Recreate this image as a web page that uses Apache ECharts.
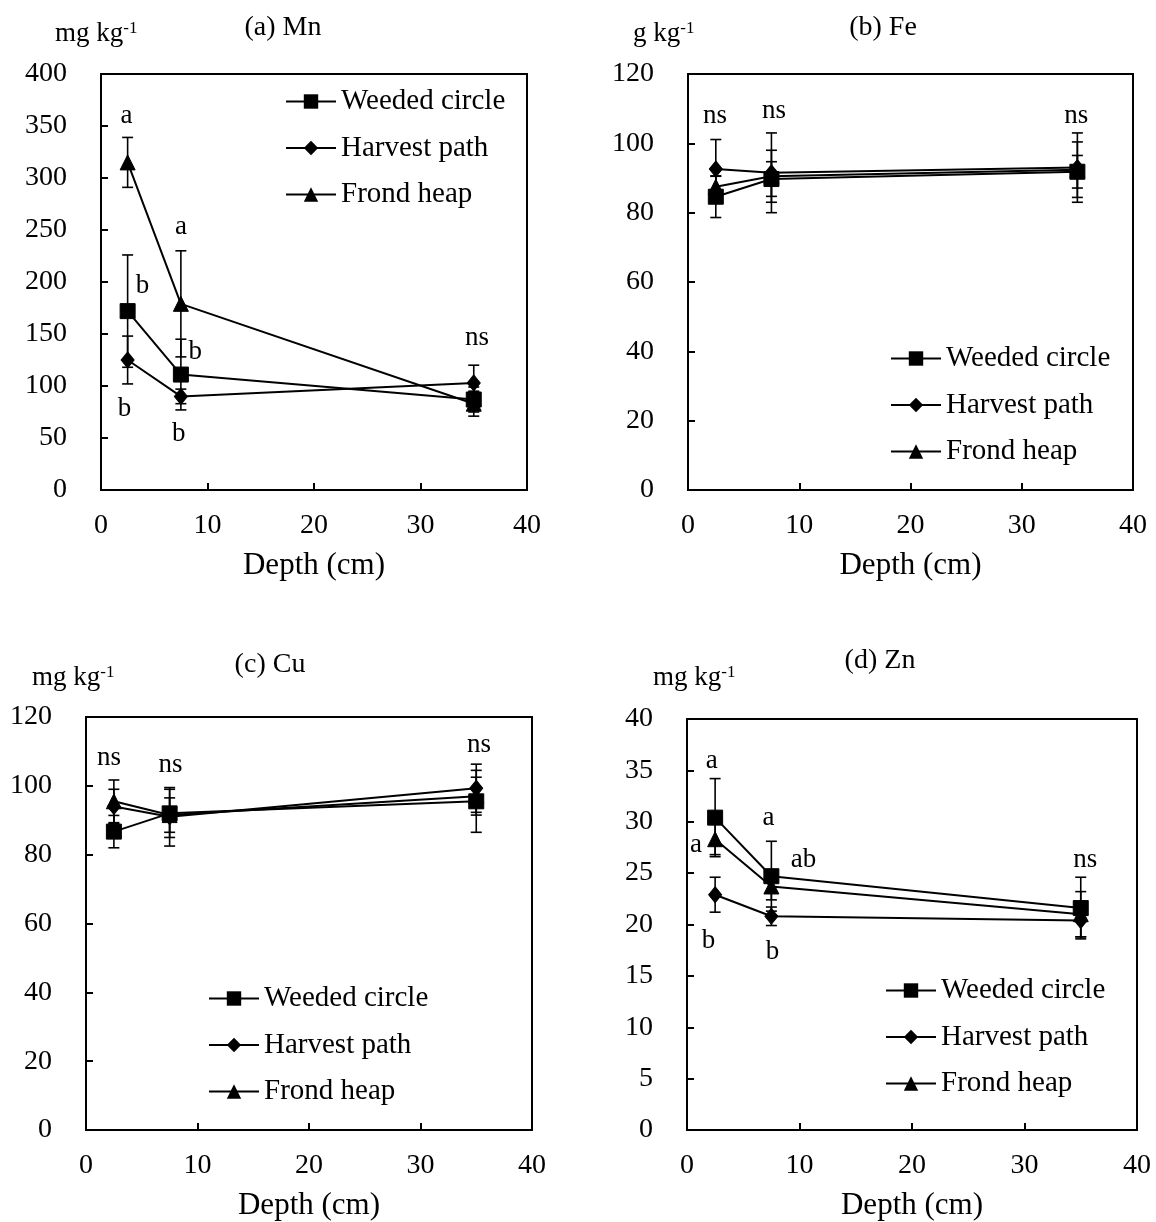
<!DOCTYPE html>
<html><head><meta charset="utf-8">
<script src="https://cdn.jsdelivr.net/npm/echarts@6/dist/echarts.min.js"></script>
<style>html,body{margin:0;padding:0;background:#fff}#c{width:1156px;height:1222px}</style>
</head><body><div id="c"></div>
<script>
// ---- data ----
const depths = [2.5, 7.5, 35];
const seriesNames = ['Weeded circle', 'Harvest path', 'Frond heap'];
const panelTitles = ['(a) Mn', '(b) Fe', '(c) Cu', '(d) Zn'];
const unitTexts = ['mg kg', 'g kg', 'mg kg', 'mg kg'];
const unitSup = '-1';
const xAxisName = 'Depth (cm)';
const yMaxes = [400, 120, 120, 40];
const ySteps = [50, 20, 20, 5];

const mnWeeded = [172, 111, 87];   const mnWeededErr = [54, 34, 12];
const mnHarvest = [125, 90, 103];  const mnHarvestErr = [23, 7, 17];
const mnFrond = [315, 179, 83];    const mnFrondErr = [24, 51, 12];

const feWeeded = [84.6, 89.7, 91.8]; const feWeededErr = [6, 5, 4.7];
const feHarvest = [92.6, 91.5, 93];  const feHarvestErr = [8.5, 11.5, 10];
const feFrond = [87.5, 90.5, 92.4];  const feFrondErr = [3, 7.5, 8];

const cuWeeded = [86.7, 92, 95.5];   const cuWeededErr = [4.7, 7, 9];
const cuHarvest = [94, 91, 99.3];    const cuHarvestErr = [5, 8.5, 7];
const cuFrond = [95.5, 91.5, 97];    const cuFrondErr = [6.2, 5, 5.5];

const znWeeded = [30.4, 24.7, 21.6]; const znWeededErr = [3.8, 3.4, 3];
const znHarvest = [22.9, 20.8, 20.4]; const znHarvestErr = [1.7, 0.9, 1.6];
const znFrond = [28.3, 23.7, 21];    const znFrondErr = [1.5, 1.3, 2.2];

// significance letters (text, x, y in data units)
const annMnText = ['a', 'b', 'b', 'a', 'b', 'b', 'ns'];
const annMnX = [2.4, 3.9, 2.2, 7.5, 8.85, 7.3, 35.3];
const annMnY = [360, 196, 78, 253, 133, 54, 146];
const annFeText = ['ns', 'ns', 'ns'];
const annFeX = [2.43, 7.73, 34.9];
const annFeY = [108, 109.3, 108];
const annCuText = ['ns', 'ns', 'ns'];
const annCuX = [2.07, 7.58, 35.25];
const annCuY = [108, 106, 112];
const annZnText = ['a', 'a', 'b', 'a', 'ab', 'b', 'ns'];
const annZnX = [2.2, 0.8, 1.9, 7.25, 10.35, 7.6, 35.4];
const annZnY = [35.9, 27.7, 18.4, 30.4, 26.3, 17.3, 26.3];

// ---- layout ----
const FONT = "'Liberation Serif', 'Times New Roman', serif";
const grids = [
  {left: 101, top: 74, width: 426, height: 416},
  {left: 688, top: 74, width: 445, height: 416},
  {left: 86, top: 717, width: 446, height: 416},
  {left: 687, top: 719, width: 450, height: 415}
];
const legendPos = [
  {left: 280, top: 82},
  {left: 885, top: 339},
  {left: 203, top: 979},
  {left: 880, top: 971}
];
const titlePos = [[283, 28], [883, 28], [270, 665], [880, 661]];
const unitPos = [[55, 34], [633, 34], [32, 678], [653, 678]];

const panels = [
  {vals: [mnWeeded, mnHarvest, mnFrond], errs: [mnWeededErr, mnHarvestErr, mnFrondErr], ann: [annMnText, annMnX, annMnY]},
  {vals: [feWeeded, feHarvest, feFrond], errs: [feWeededErr, feHarvestErr, feFrondErr], ann: [annFeText, annFeX, annFeY]},
  {vals: [cuWeeded, cuHarvest, cuFrond], errs: [cuWeededErr, cuHarvestErr, cuFrondErr], ann: [annCuText, annCuX, annCuY]},
  {vals: [znWeeded, znHarvest, znFrond], errs: [znWeededErr, znHarvestErr, znFrondErr], ann: [annZnText, annZnX, annZnY]}
];
const symbols = ['rect', 'diamond', 'triangle'];
const symbolSizes = [15, [13, 16], 15];

const option = {
  animation: false,
  backgroundColor: '#fff',
  grid: grids.map(g => Object.assign({show: true, borderColor: '#000', borderWidth: 2, backgroundColor: 'transparent'}, g)),
  xAxis: grids.map((g, i) => ({
    gridIndex: i, type: 'value', min: 0, max: 40, interval: 10,
    name: xAxisName, nameLocation: 'middle', nameGap: 60,
    nameTextStyle: {fontFamily: FONT, fontSize: 31, color: '#000'},
    axisLine: {show: true, onZero: false, lineStyle: {color: '#000', width: 2}},
    axisTick: {show: true, inside: true, length: 7, lineStyle: {color: '#000', width: 2}},
    axisLabel: {fontFamily: FONT, fontSize: 28, color: '#000', margin: 22},
    splitLine: {show: false}
  })),
  yAxis: grids.map((g, i) => ({
    gridIndex: i, type: 'value', min: 0, max: yMaxes[i], interval: ySteps[i],
    axisLine: {show: true, onZero: false, lineStyle: {color: '#000', width: 2}},
    axisTick: {show: true, inside: true, length: 7, lineStyle: {color: '#000', width: 2}},
    axisLabel: {fontFamily: FONT, fontSize: 28, color: '#000', margin: 34},
    splitLine: {show: false}
  })),
  legend: legendPos.map(p => ({
    left: p.left, top: p.top, orient: 'vertical', itemWidth: 50, itemHeight: 18, itemGap: 17.5,
    textStyle: {fontFamily: FONT, fontSize: 29, color: '#000'},
    data: seriesNames, selectedMode: false
  })),
  graphic: [],
  series: []
};

panels.forEach((p, gi) => {
  seriesNames.forEach((name, si) => {
    // error bars
    option.series.push({
      type: 'custom', xAxisIndex: gi, yAxisIndex: gi, silent: true, z: 2,
      data: depths.map((d, k) => [d, p.vals[si][k], p.errs[si][k]]),
      renderItem: (params, api) => {
        const x = api.value(0), y = api.value(1), e = api.value(2);
        const t = api.coord([x, y + e]), b = api.coord([x, y - e]);
        const hw = 5.5, st = {stroke: '#000', lineWidth: 1.6};
        return {type: 'group', children: [
          {type: 'line', shape: {x1: t[0], y1: t[1], x2: b[0], y2: b[1]}, style: st},
          {type: 'line', shape: {x1: t[0] - hw, y1: t[1], x2: t[0] + hw, y2: t[1]}, style: st},
          {type: 'line', shape: {x1: b[0] - hw, y1: b[1], x2: b[0] + hw, y2: b[1]}, style: st}
        ]};
      }
    });
    // lines with markers
    option.series.push({
      name: name, type: 'line', xAxisIndex: gi, yAxisIndex: gi, z: 3,
      data: depths.map((d, k) => [d, p.vals[si][k]]),
      symbol: symbols[si], symbolSize: symbolSizes[si], showSymbol: true,
      lineStyle: {color: '#000', width: 2}, itemStyle: {color: '#000', borderColor: '#000'},
      emphasis: {disabled: true}
    });
  });
  // annotations
  const [txt, ax, ay] = p.ann;
  option.series.push({
    type: 'custom', xAxisIndex: gi, yAxisIndex: gi, silent: true, z: 4,
    data: ax.map((x, k) => [x, ay[k], k]),
    renderItem: (params, api) => {
      const c = api.coord([api.value(0), api.value(1)]);
      return {type: 'text', x: c[0], y: c[1], style: {
        text: txt[api.value(2)], fill: '#000', fontFamily: FONT, fontSize: 27,
        align: 'center', verticalAlign: 'middle'}};
    }
  });
  // titles
  option.graphic.push({type: 'text', x: titlePos[gi][0], y: titlePos[gi][1], style: {
    text: panelTitles[gi], fill: '#000', font: '28px ' + FONT, align: 'center', verticalAlign: 'middle'}});
  option.graphic.push({type: 'text', x: unitPos[gi][0], y: unitPos[gi][1], style: {
    text: '{m|' + unitTexts[gi] + '}{s|' + unitSup + '}', align: 'left', verticalAlign: 'middle',
    rich: {m: {fontFamily: FONT, fontSize: 27, fill: '#000', color: '#000'},
           s: {fontFamily: FONT, fontSize: 17, fill: '#000', color: '#000', verticalAlign: 'top'}}}});
});

const chart = echarts.init(document.getElementById('c'), null, {renderer: 'canvas'});
chart.setOption(option);
</script></body></html>
